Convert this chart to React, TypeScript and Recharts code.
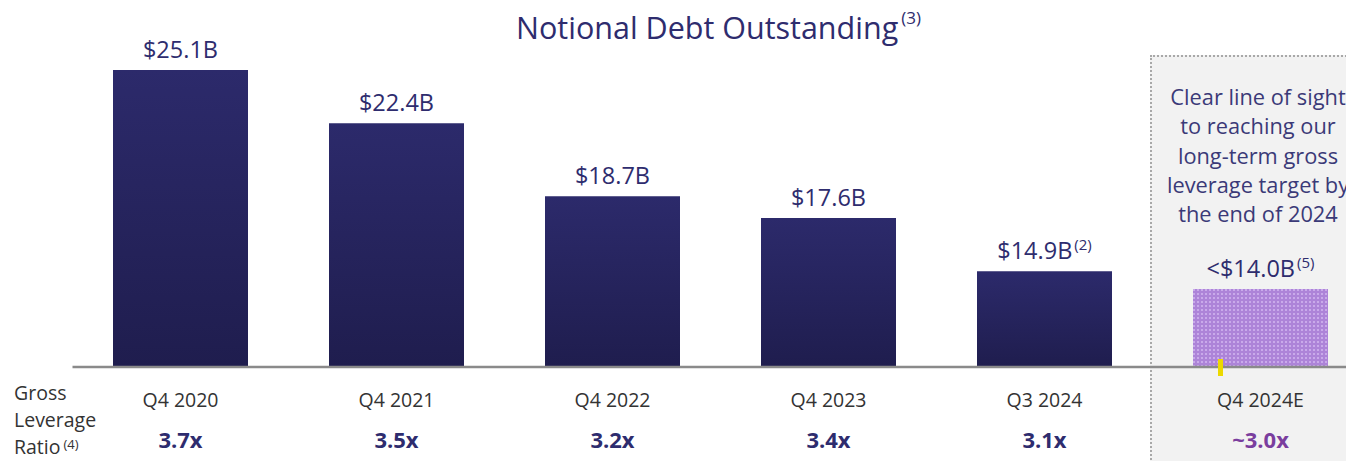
import { BarChart, Bar, XAxis, YAxis, Cell, LabelList } from 'recharts';

const categories = ['Q4 2020', 'Q4 2021', 'Q4 2022', 'Q4 2023', 'Q3 2024', 'Q4 2024E'];
const debt = [25.1, 22.4, 18.7, 17.6, 14.9, 14.0];
const debtLabels = ['$25.1B', '$22.4B', '$18.7B', '$17.6B', '$14.9B', '<$14.0B'];
const debtNotes = ['', '', '', '', '(2)', '(5)'];
const leverage = ['3.7x', '3.5x', '3.2x', '3.4x', '3.1x', '~3.0x'];
const boxLines = ['Clear line of sight', 'to reaching our', 'long-term gross', 'leverage target by', 'the end of 2024'];

const data = categories.map((name, i) => ({
    name,
    debt: debt[i],
    label: debtLabels[i],
    note: debtNotes[i],
    leverage: leverage[i],
    estimate: i === categories.length - 1,
}));

const NAVY = '#2e2c6e';
const FONT = '"Open Sans", "Noto Sans", sans-serif';

const ValueLabel = (props: any) => {
    const { x, y, width, index } = props;
    const d = data[index];
    return (
        <text x={x + width / 2} y={y - 12} textAnchor="middle" fill={NAVY} fontSize={23.5} fontFamily={FONT}>
            {d.label}
            {d.note && <tspan fontSize={15} dx={2} dy={-9}>{d.note}</tspan>}
        </text>
    );
};

const CategoryTick = (props: any) => {
    const { x, y, payload, index } = props;
    const d = data[index];
    return (
        <g>
            <text x={x} y={y + 32} textAnchor="middle" fill="#333" fontSize={19.5} fontFamily={FONT}>
                {payload.value}
            </text>
            <text x={x} y={y + 73} textAnchor="middle" fill={d.estimate ? '#7a3e9e' : NAVY} fontSize={22} fontWeight={700} fontFamily={FONT}>
                {d.leverage}
            </text>
        </g>
    );
};

export default function App() {
    return (
        <div style={{ position: 'absolute', left: 0, top: 0, width: 1346, height: 461, overflow: 'hidden', background: '#fff', fontFamily: FONT }}>
            {/* shaded estimate panel */}
            <div style={{ position: 'absolute', left: 1150, top: 55, width: 240, height: 420, background: '#f2f2f2', border: '2px dotted #a8a8a8', boxSizing: 'border-box' }} />
            <div style={{ position: 'absolute', left: 516, top: 12, whiteSpace: 'nowrap', color: NAVY, fontSize: 30.5, lineHeight: '1' }}>
                <span>Notional Debt Outstanding</span>
                <span style={{ fontSize: 17, verticalAlign: 'top', position: 'relative', top: -3, marginLeft: 3 }}>(3)</span>
            </div>
            <div style={{ position: 'absolute', left: 1258, top: 82, transform: 'translateX(-50%)', whiteSpace: 'nowrap', textAlign: 'center', color: '#3b3a78', fontSize: 21.8, lineHeight: '29.3px' }}>
                {boxLines.map((l) => (
                    <div key={l}>{l}</div>
                ))}
            </div>
            <div style={{ position: 'absolute', left: 14, top: 379, color: '#333', fontSize: 19.5, lineHeight: '27px' }}>
                <div>Gross</div>
                <div>Leverage</div>
                <div>
                    Ratio<span style={{ fontSize: 13, verticalAlign: 'top', position: 'relative', top: -2, marginLeft: 3 }}>(4)</span>
                </div>
            </div>
            <div style={{ position: 'absolute' }}>
                <BarChart width={1380} height={461} data={data} margin={{ top: 70, right: 11.5, bottom: 0, left: 72.5 }} barCategoryGap="18.75%">
                    <defs>
                        <linearGradient id="navyGrad" x1="0" y1="0" x2="0" y2="1">
                            <stop offset="0%" stopColor="#2c2a6b" />
                            <stop offset="100%" stopColor="#1f1d4e" />
                        </linearGradient>
                        <pattern id="dots" width="4" height="4" patternUnits="userSpaceOnUse">
                            <rect width="4" height="4" fill="#ad84d8" />
                            <rect x="1" y="1" width="2" height="2" fill="#c9aaea" />
                        </pattern>
                    </defs>
                    <XAxis dataKey="name" height={94} axisLine={{ stroke: '#8a8a8a', strokeWidth: 2.5 }} tickLine={false} tick={<CategoryTick />} interval={0} />
                    <YAxis hide width={0} domain={[10.05, 25.1]} allowDataOverflow />
                    <Bar dataKey="debt" isAnimationActive={false}>
                        {data.map((d) => (
                            <Cell key={d.name} fill={d.estimate ? 'url(#dots)' : 'url(#navyGrad)'} />
                        ))}
                        <LabelList dataKey="label" content={<ValueLabel />} />
                    </Bar>
                </BarChart>
            </div>
            <div style={{ position: 'absolute', left: 1218, top: 359, width: 5, height: 17, background: '#ecd900' }} />
        </div>
    );
}
